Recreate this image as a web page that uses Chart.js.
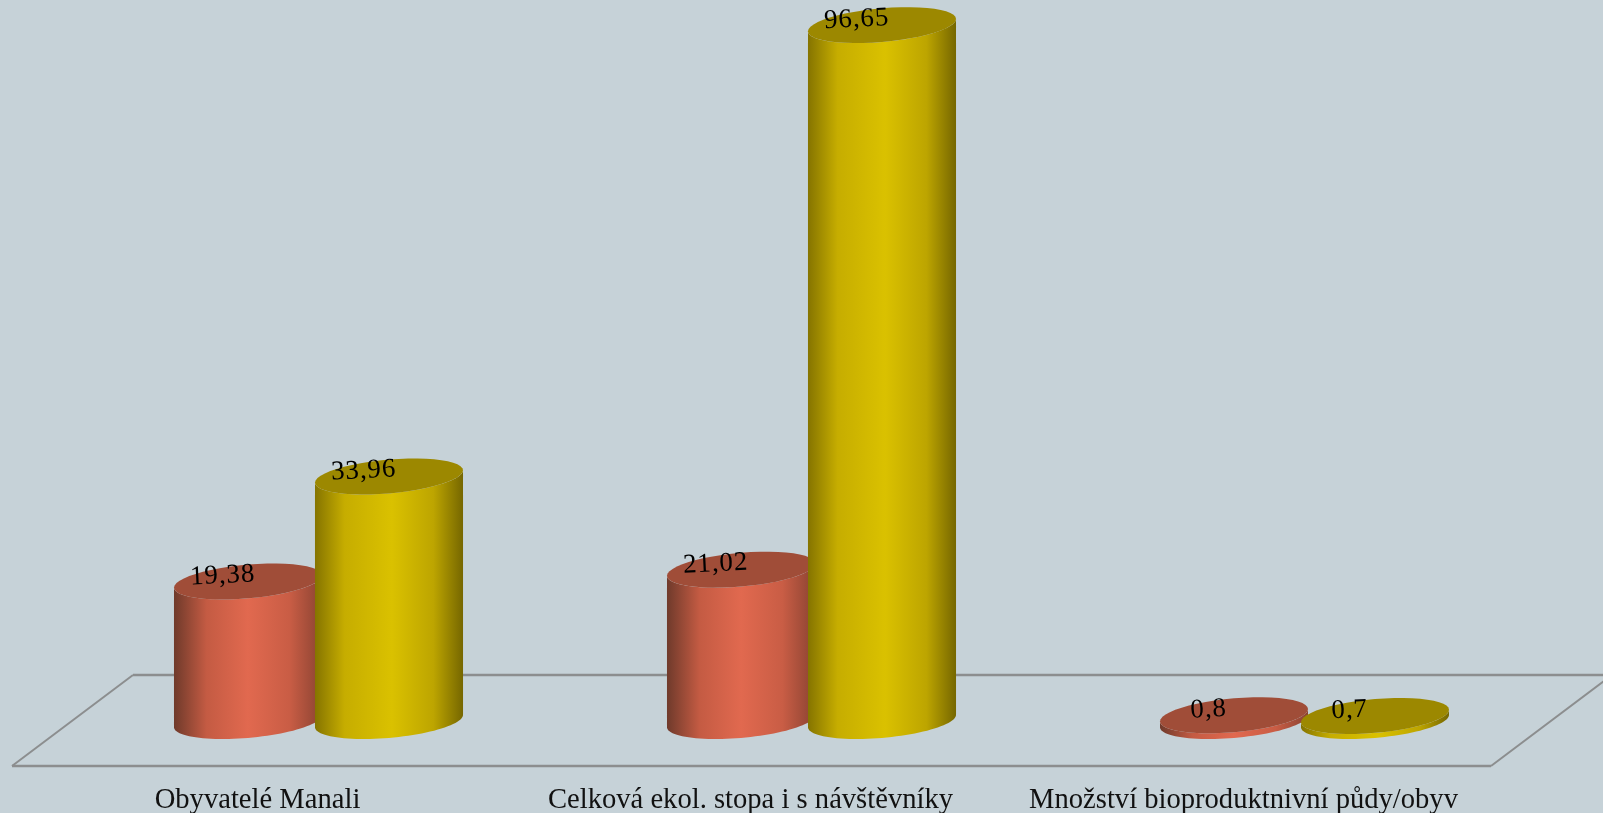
<!DOCTYPE html>
<html lang="cs">
<head>
<meta charset="utf-8">
<title>Ekologická stopa Manali</title>
<script src="https://cdn.jsdelivr.net/npm/chart.js@4/dist/chart.umd.min.js"></script>
<style>
    html, body { margin: 0; padding: 0; background: #c6d2d8; overflow: hidden; }
    canvas { display: block; }
</style>
</head>
<body>
<canvas id="chart" width="1603" height="813"></canvas>
<script>
// Data
const categories = ['Obyvatelé Manali', 'Celková ekol. stopa i s návštěvníky', 'Množství bioproduktnivní půdy/obyv'];
const redValues = [19.38, 21.02, 0.8];
const yellowValues = [33.96, 96.65, 0.7];
const valueLabels = [
    ['19,38', '21,02', '0,8'],
    ['33,96', '96,65', '0,7']
];

const FONT = '"Liberation Serif", serif';

// Colours of each cylinder: side gradient stops and the flat top
const redStyle = {
    top: '#a04d38',
    stops: [[0, '#6f3a2b'], [0.22, '#c45b43'], [0.5, '#e1694f'], [0.78, '#c95d45'], [1, '#8a4332']]
};
const yellowStyle = {
    top: '#9c8800',
    stops: [[0, '#857400'], [0.2, '#c6ad00'], [0.52, '#dac100'], [0.8, '#bda500'], [1, '#766700']]
};
const styles = [redStyle, yellowStyle];

// The ellipse is sheared so it looks tilted like in the old 3D chart
const TILT = 6.2;
const ELLIPSE_H = 16.9;

function ellipsePath(ctx, cx, cy, rx, from, to) {
    const steps = 48;
    for (let i = 0; i <= steps; i++) {
        const t = from + (to - from) * i / steps;
        ctx.lineTo(cx + rx * Math.cos(t), cy - TILT * Math.cos(t) + ELLIPSE_H * Math.sin(t));
    }
}

function drawCylinder(ctx, bar, style) {
    const rx = bar.width / 2;
    const grad = ctx.createLinearGradient(bar.x - rx, 0, bar.x + rx, 0);
    style.stops.forEach(s => grad.addColorStop(s[0], s[1]));

    // side: front half of the top, then front half of the base going back
    ctx.beginPath();
    ellipsePath(ctx, bar.x, bar.y, rx, Math.PI, 0);
    ellipsePath(ctx, bar.x, bar.base, rx, 0, Math.PI);
    ctx.closePath();
    ctx.fillStyle = grad;
    ctx.fill();

    // top cap
    ctx.beginPath();
    ellipsePath(ctx, bar.x, bar.y, rx, 0, Math.PI * 2);
    ctx.closePath();
    ctx.fillStyle = style.top;
    ctx.fill();
}

// Floor under the cylinders
const floorPlugin = {
    id: 'floor',
    beforeDatasetsDraw(chart) {
        const { ctx, chartArea } = chart;
        const zero = chart.scales.y.getPixelForValue(0);
        const backY = zero - 46;
        const frontY = zero + 45;
        ctx.save();
        ctx.strokeStyle = '#8c8e8f';
        // sides are thinner than the long edges
        ctx.lineWidth = 2;
        ctx.beginPath();
        ctx.moveTo(chartArea.left + 61, backY);
        ctx.lineTo(chartArea.left - 60, frontY);
        ctx.moveTo(chartArea.right - 60, frontY);
        ctx.lineTo(chartArea.right + 61, backY);
        ctx.stroke();
        ctx.lineWidth = 2.6;
        ctx.beginPath();
        ctx.moveTo(chartArea.right + 61, backY);
        ctx.lineTo(chartArea.left + 61, backY);
        ctx.moveTo(chartArea.left - 60, frontY);
        ctx.lineTo(chartArea.right - 60, frontY);
        ctx.stroke();
        ctx.restore();
    }
};

// Cylinders and their value labels, on top of the invisible bars
const cylinderPlugin = {
    id: 'cylinders',
    afterDatasetsDraw(chart) {
        const { ctx } = chart;
        ctx.save();
        categories.forEach((c, i) => {
            styles.forEach((style, d) => {
                drawCylinder(ctx, chart.getDatasetMeta(d).data[i], style);
            });
        });
        ctx.fillStyle = '#000';
        ctx.font = '27px ' + FONT;
        ctx.letterSpacing = '0.9px';
        ctx.textAlign = 'center';
        ctx.textBaseline = 'alphabetic';
        categories.forEach((c, i) => {
            styles.forEach((style, d) => {
                const bar = chart.getDatasetMeta(d).data[i];
                ctx.save();
                ctx.translate(bar.x - 25, bar.y + 1.5);
                ctx.rotate(-0.05);
                ctx.fillText(valueLabels[d][i], 0, 0);
                ctx.restore();
            });
        });
        ctx.restore();
    }
};

new Chart(document.getElementById('chart').getContext('2d'), {
    type: 'bar',
    data: {
        labels: categories,
        datasets: [
            { data: redValues, backgroundColor: 'transparent', categoryPercentage: 0.572, barPercentage: 1.05 },
            { data: yellowValues, backgroundColor: 'transparent', categoryPercentage: 0.572, barPercentage: 1.05 }
        ]
    },
    options: {
        responsive: false,
        animation: false,
        layout: { padding: { left: 72, right: 52, top: 1, bottom: 0 } },
        scales: {
            y: { display: false, min: 0, max: 100 },
            x: {
                grid: { display: false },
                border: { display: false },
                afterFit(scale) { scale.height = 92; },
                ticks: {
                    color: '#111',
                    font: { family: FONT, size: 28.6 },
                    autoSkip: false,
                    maxRotation: 0,
                    labelOffset: -61,
                    padding: 54
                }
            }
        },
        plugins: {
            legend: { display: false },
            tooltip: { enabled: false }
        }
    },
    plugins: [floorPlugin, cylinderPlugin]
});
</script>
</body>
</html>
